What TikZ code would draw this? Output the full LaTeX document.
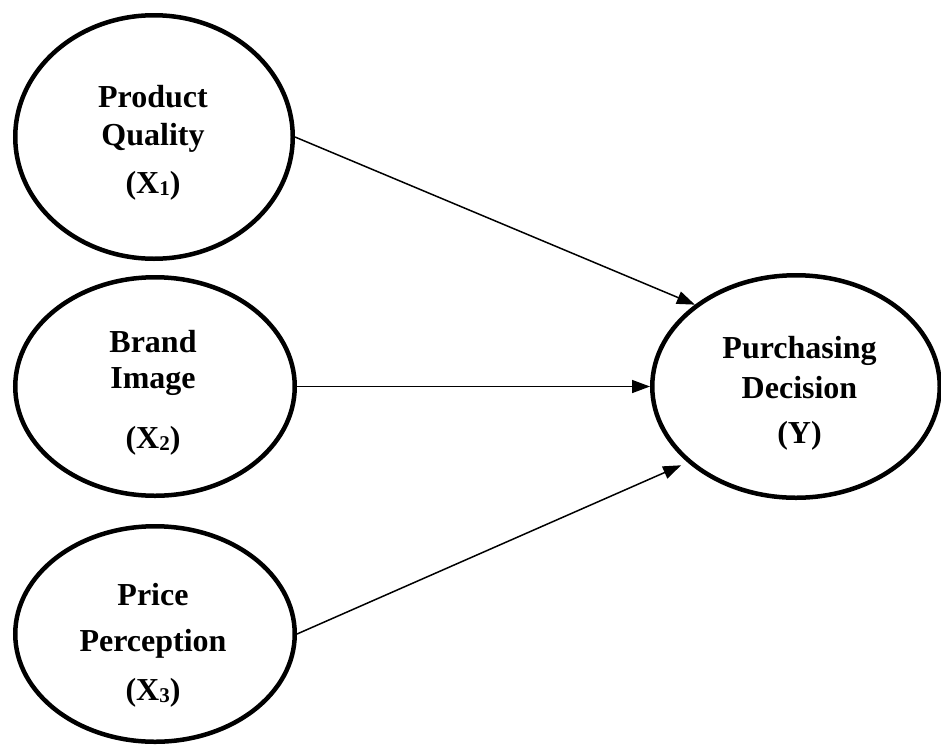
\documentclass[tikz,border=0pt]{standalone}
\usepackage{fontspec}
\setmainfont{Liberation Serif}
\usetikzlibrary{shapes.geometric,arrows.meta}
\newcommand{\lowsub}[1]{\raisebox{-2pt}{\fontsize{21}{21}\selectfont #1}}
\tikzset{
  latent/.style={draw, ellipse, line width=4.5pt, inner sep=0pt},
  lbl/.style={align=center, anchor=north, inner sep=0pt,
    font=\fontsize{32}{38}\selectfont\bfseries},
  arr/.style={-{Triangle[length=18pt,width=13pt]}, line width=1.5pt}
}
\begin{document}
\begin{tikzpicture}[x=1pt,y=-1pt]
\useasboundingbox (0,0) rectangle (941,744);
\node[latent, minimum width=277.5pt, minimum height=243.5pt] (x1) at (154,137) {};
\node[latent, minimum width=279.5pt, minimum height=218.5pt] (x2) at (155,386.5) {};
\node[latent, minimum width=279.5pt, minimum height=215.5pt] (x3) at (155,634) {};
\node[latent, minimum width=287.5pt, minimum height=222.5pt] (y) at (796,386.5) {};
\node[lbl] (x1t) at (153,85.4) {Product\\Quality\\[10pt](X\lowsub{1})};
\node[lbl] (x2t) at (153,330.4) {Brand\\[-2pt]Image\\[22pt](X\lowsub{2})};
\node[lbl] (x3t) at (153,583) {Price\\[8pt]Perception\\[11pt](X\lowsub{3})};
\node[lbl] (yt) at (799.5,336) {Purchasing\\[2pt]Decision\\[7pt](Y)};
\draw[arr] (x1.east) -- (y.141);
\draw[arr] (x2.east) -- (y.west);
\draw[arr, shorten >=7pt] (x3.east) -- (y.215);
\end{tikzpicture}
\end{document}
